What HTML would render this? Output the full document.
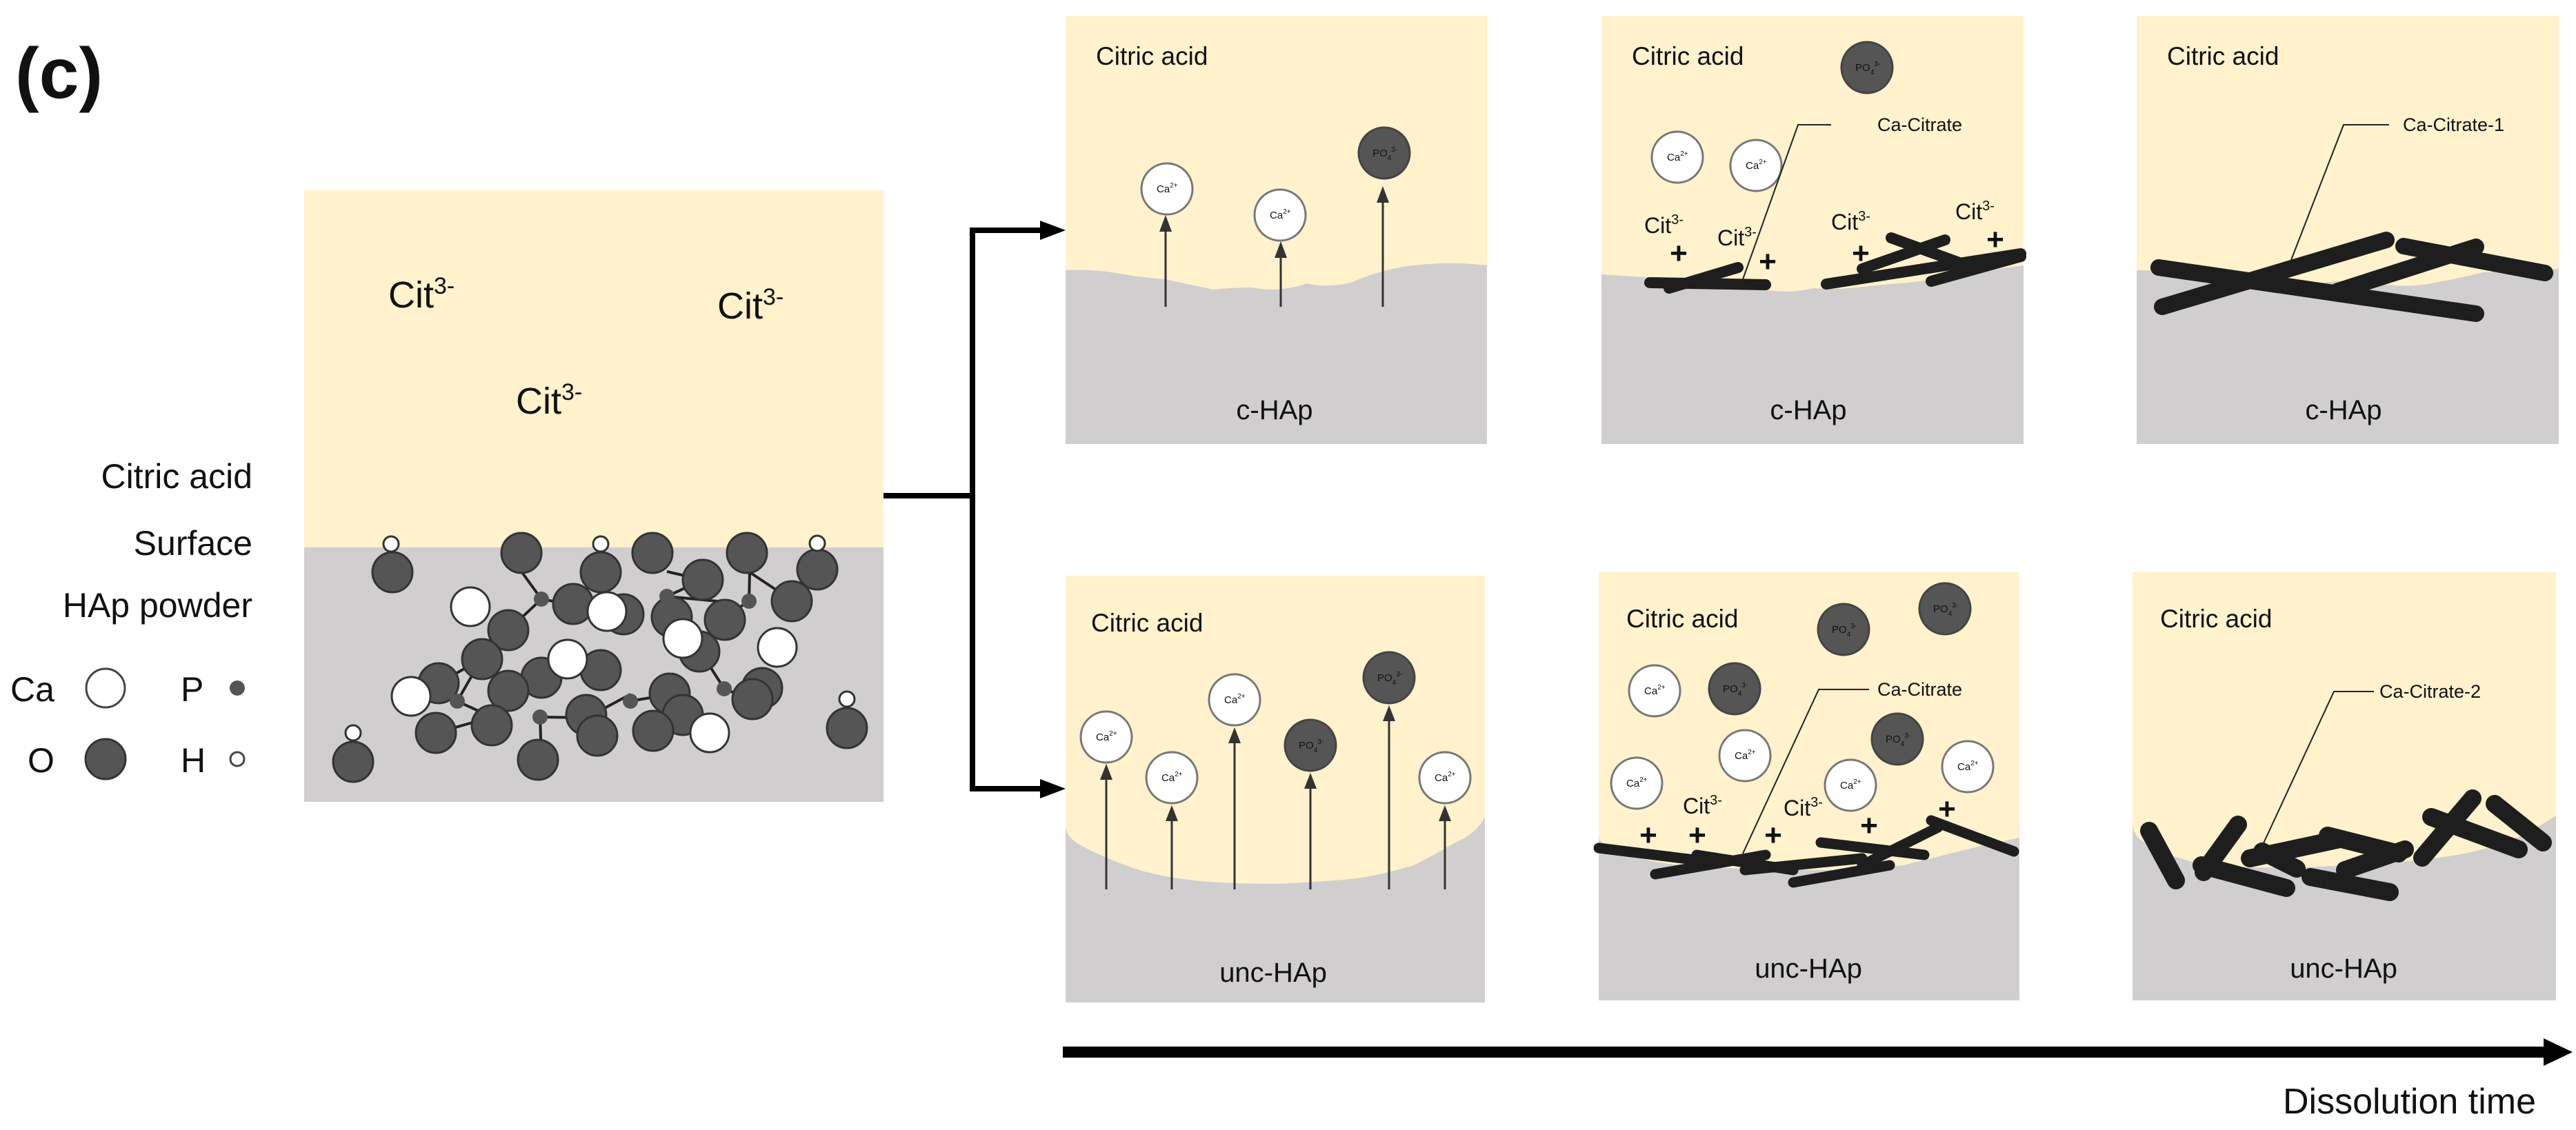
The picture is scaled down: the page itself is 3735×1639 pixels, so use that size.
<!DOCTYPE html>
<html><head><meta charset="utf-8"><style>
html,body{margin:0;padding:0;background:#fff}
svg{display:block}
text{font-family:"Liberation Sans",Arial,sans-serif;fill:#111}
</style></head><body>
<svg width="3735" height="1639" viewBox="0 0 3735 1639" xmlns="http://www.w3.org/2000/svg">
<defs>
<g id="ca"><circle r="37" fill="#fff" stroke="#777" stroke-width="3"/><text x="-15" y="5" font-size="15" fill="#333">Ca<tspan font-size="10" dy="-7">2+</tspan></text></g>
<g id="po"><circle r="37" fill="#555" stroke="#444" stroke-width="3"/><text x="-17" y="5" font-size="15" fill="#ddd">PO<tspan font-size="10" dy="5">4</tspan><tspan font-size="10" dy="-12">3-</tspan></text></g>
</defs>

<text x="22" y="142" font-size="104" font-weight="bold">(c)</text>

<!-- left panel -->
<rect x="441" y="276" width="840" height="518" fill="#fff2cc"/>
<rect x="441" y="794" width="840" height="369" fill="#d1cecf"/>
<g font-size="54">
<text x="563" y="446">Cit<tspan font-size="34" dy="-20">3-</tspan></text>
<text x="1040" y="462">Cit<tspan font-size="34" dy="-20">3-</tspan></text>
<text x="748" y="600">Cit<tspan font-size="34" dy="-20">3-</tspan></text>
</g>
<g font-size="50" text-anchor="end">
<text x="366" y="708">Citric acid</text>
<text x="366" y="805">Surface</text>
<text x="366" y="895">HAp powder</text>
</g>
<g font-size="50">
<text x="15" y="1017">Ca</text><text x="262" y="1017">P</text>
<text x="40" y="1120">O</text><text x="262" y="1120">H</text>
</g>
<circle cx="153" cy="998" r="28" fill="#fff" stroke="#444" stroke-width="3"/>
<circle cx="344" cy="998" r="11" fill="#555"/>
<circle cx="153" cy="1101" r="29" fill="#555" stroke="#333" stroke-width="3"/>
<circle cx="344" cy="1101" r="10" fill="#fff" stroke="#444" stroke-width="3"/>

<!-- molecules -->
<g stroke="#222" stroke-width="4" fill="none">
<polyline points="756,829 785,869 737,914"/><polyline points="785,869 830,877 871,830"/>
<polyline points="967,865 1019,841 967,829"/><polyline points="967,865 1050,873"/>
<polyline points="1086,872 1087,830 1150,872"/><polyline points="1086,872 1043,900"/>
<polyline points="663,1017 698,956 636,991"/><polyline points="663,1017 713,1040 632,1063"/>
<polyline points="783,1040 785,1100"/><polyline points="783,1040 851,1041 914,1007"/>
<polyline points="914,1017 971,1007 985,1060"/><polyline points="1050,999 1015,944"/><polyline points="1050,999 1090,1015"/>
</g>
<g fill="#555" stroke="#333" stroke-width="3">
<circle cx="569" cy="830" r="29"/><circle cx="756" cy="802" r="29"/><circle cx="871" cy="830" r="29"/>
<circle cx="946" cy="802" r="29"/><circle cx="1083" cy="802" r="29"/><circle cx="1185" cy="826" r="29"/>
<circle cx="1019" cy="841" r="29"/><circle cx="831" cy="876" r="29"/><circle cx="904" cy="891" r="29"/>
<circle cx="974" cy="895" r="29"/><circle cx="1051" cy="899" r="29"/><circle cx="1148" cy="872" r="29"/>
<circle cx="737" cy="914" r="29"/><circle cx="1014" cy="945" r="29"/><circle cx="699" cy="956" r="29"/>
<circle cx="871" cy="972" r="29"/><circle cx="785" cy="983" r="29"/><circle cx="636" cy="991" r="29"/>
<circle cx="737" cy="1002" r="29"/><circle cx="971" cy="1006" r="29"/><circle cx="1105" cy="998" r="29"/>
<circle cx="1091" cy="1014" r="29"/><circle cx="990" cy="1037" r="29"/><circle cx="632" cy="1063" r="29"/>
<circle cx="713" cy="1052" r="29"/><circle cx="850" cy="1037" r="29"/><circle cx="866" cy="1067" r="29"/>
<circle cx="947" cy="1060" r="29"/><circle cx="780" cy="1102" r="29"/><circle cx="512" cy="1105" r="29"/>
<circle cx="1228" cy="1056" r="29"/>
</g>
<g fill="#fff" stroke="#333" stroke-width="3">
<circle cx="682" cy="880" r="28"/><circle cx="880" cy="887" r="28"/><circle cx="1127" cy="939" r="28"/>
<circle cx="990" cy="926" r="28"/><circle cx="823" cy="956" r="28"/><circle cx="596" cy="1010" r="28"/>
<circle cx="1029" cy="1063" r="28"/>
<circle cx="567" cy="789" r="11"/><circle cx="871" cy="789" r="11"/><circle cx="1185" cy="788" r="11"/>
<circle cx="512" cy="1063" r="11"/><circle cx="1228" cy="1014" r="11"/>
</g>
<g fill="#555"><circle cx="785" cy="869" r="11"/><circle cx="967" cy="865" r="11"/><circle cx="1086" cy="872" r="11"/>
<circle cx="663" cy="1017" r="11"/><circle cx="783" cy="1040" r="11"/><circle cx="914" cy="1017" r="11"/><circle cx="1050" cy="999" r="11"/></g>

<!-- connector -->
<g stroke="#000" stroke-width="8" fill="none">
<line x1="1281" y1="719" x2="1414" y2="719"/>
<polyline points="1510,334 1410,334 1410,1144 1510,1144"/>
</g>
<polygon points="1508,320 1545,334 1508,348" fill="#000"/>
<polygon points="1508,1130 1545,1144 1508,1158" fill="#000"/>

<!-- ===== Top panel 1 ===== -->
<rect x="1545" y="23" width="611" height="621" fill="#d1cecf"/>
<path d="M1545,23 H2156 V385 Q2100,378 2040,386 Q1990,395 1960,410 Q1920,418 1895,411 Q1855,425 1815,417 Q1770,418 1760,420 Q1720,412 1690,405 Q1650,402 1620,396 Q1580,390 1545,392 Z" fill="#fff2cc"/>
<text x="1589" y="94" font-size="37">Citric acid</text>
<g stroke="#333" stroke-width="3"><line x1="1690" y1="445" x2="1690" y2="330"/><line x1="1857" y1="445" x2="1857" y2="368"/><line x1="2005" y1="445" x2="2005" y2="288"/></g>
<g fill="#333"><polygon points="1681,336 1690,312 1699,336"/><polygon points="1848,374 1857,350 1866,374"/><polygon points="1996,294 2005,270 2014,294"/></g>
<use href="#ca" x="1692" y="274"/><use href="#ca" x="1856" y="312"/><use href="#po" x="2007" y="222"/>
<text x="1848" y="608" font-size="40" text-anchor="middle">c-HAp</text>

<!-- ===== Top panel 2 ===== -->
<rect x="2322" y="23" width="612" height="621" fill="#d1cecf"/>
<path d="M2322,23 H2934 V385 Q2880,392 2830,400 Q2780,410 2740,412 Q2700,416 2680,418 Q2660,420 2630,418 Q2600,425 2570,422 Q2550,420 2520,412 Q2470,410 2440,405 Q2380,402 2322,398 Z" fill="#fff2cc"/>
<text x="2366" y="94" font-size="37">Citric acid</text>
<use href="#po" x="2707" y="98"/><use href="#ca" x="2432" y="228"/><use href="#ca" x="2546" y="240"/>
<g stroke="#222" stroke-width="2" fill="none"><polyline points="2655,181 2607,181 2527,405"/></g>
<text x="2722" y="190" font-size="27">Ca-Citrate</text>
<g font-size="32">
<text x="2384" y="338">Cit<tspan font-size="20" dy="-13">3-</tspan></text>
<text x="2490" y="356">Cit<tspan font-size="20" dy="-13">3-</tspan></text>
<text x="2655" y="333">Cit<tspan font-size="20" dy="-13">3-</tspan></text>
<text x="2835" y="318">Cit<tspan font-size="20" dy="-13">3-</tspan></text>
</g>
<g font-size="44" font-weight="bold" text-anchor="middle">
<text x="2434" y="382">+</text><text x="2563" y="394">+</text><text x="2698" y="382">+</text><text x="2893" y="362">+</text>
</g>
<g stroke="#1e1e1e" stroke-width="16" stroke-linecap="round">
<line x1="2392" y1="410" x2="2560" y2="413"/><line x1="2420" y1="418" x2="2520" y2="388"/>
<line x1="2648" y1="412" x2="2930" y2="368"/><line x1="2742" y1="345" x2="2860" y2="388"/>
<line x1="2800" y1="408" x2="2930" y2="372"/><line x1="2700" y1="390" x2="2820" y2="348"/>
</g>
<text x="2622" y="608" font-size="40" text-anchor="middle">c-HAp</text>

<!-- ===== Top panel 3 ===== -->
<rect x="3098" y="23" width="612" height="621" fill="#d1cecf"/>
<path d="M3098,23 H3710 V390 Q3650,392 3600,395 Q3560,405 3520,412 Q3480,418 3440,410 Q3400,405 3370,410 Q3320,412 3280,405 Q3220,400 3180,398 Q3130,392 3098,392 Z" fill="#fff2cc"/>
<text x="3142" y="94" font-size="37">Citric acid</text>
<g stroke="#222" stroke-width="2" fill="none"><polyline points="3464,181 3398,181 3322,377"/></g>
<text x="3484" y="190" font-size="27">Ca-Citrate-1</text>
<g stroke="#1e1e1e" stroke-width="24" stroke-linecap="round">
<line x1="3130" y1="388" x2="3590" y2="455"/><line x1="3135" y1="445" x2="3460" y2="348"/>
<line x1="3390" y1="422" x2="3590" y2="358"/><line x1="3485" y1="357" x2="3690" y2="396"/>
</g>
<text x="3398" y="608" font-size="40" text-anchor="middle">c-HAp</text>

<!-- ===== Bottom panel 1 ===== -->
<rect x="1545" y="835" width="608" height="619" fill="#d1cecf"/>
<path d="M1545,835 H2153 V1185 Q2140,1210 2110,1222 Q2080,1240 2050,1255 Q2000,1270 1960,1275 Q1900,1280 1850,1282 Q1790,1282 1740,1278 Q1680,1272 1640,1258 Q1590,1240 1560,1222 Q1545,1210 1545,1198 Z" fill="#fff2cc"/>
<text x="1582" y="916" font-size="37">Citric acid</text>
<g stroke="#333" stroke-width="3">
<line x1="1604" y1="1290" x2="1604" y2="1125"/><line x1="1699" y1="1290" x2="1699" y2="1185"/>
<line x1="1790" y1="1290" x2="1790" y2="1072"/><line x1="1900" y1="1290" x2="1900" y2="1138"/>
<line x1="2014" y1="1290" x2="2014" y2="1040"/><line x1="2095" y1="1290" x2="2095" y2="1185"/>
</g>
<g fill="#333">
<polygon points="1595,1131 1604,1108 1613,1131"/><polygon points="1690,1191 1699,1168 1708,1191"/>
<polygon points="1781,1078 1790,1055 1799,1078"/><polygon points="1891,1144 1900,1121 1909,1144"/>
<polygon points="2005,1046 2014,1023 2023,1046"/><polygon points="2086,1191 2095,1168 2104,1191"/>
</g>
<use href="#ca" x="1604" y="1069"/><use href="#ca" x="1699" y="1128"/><use href="#ca" x="1790" y="1015"/>
<use href="#ca" x="2095" y="1128"/><use href="#po" x="1900" y="1081"/><use href="#po" x="2014" y="983"/>
<text x="1846" y="1424" font-size="40" text-anchor="middle">unc-HAp</text>

<!-- ===== Bottom panel 2 ===== -->
<rect x="2318" y="830" width="610" height="621" fill="#d1cecf"/>
<path d="M2318,830 H2928 V1215 Q2880,1225 2840,1235 Q2800,1245 2760,1255 Q2700,1262 2650,1262 Q2600,1262 2560,1258 Q2500,1262 2440,1255 Q2380,1250 2345,1232 Q2318,1222 2318,1215 Z" fill="#fff2cc"/>
<text x="2358" y="910" font-size="37">Citric acid</text>
<use href="#po" x="2673" y="913"/><use href="#po" x="2820" y="883"/><use href="#po" x="2515" y="999"/><use href="#po" x="2751" y="1072"/>
<use href="#ca" x="2399" y="1002"/><use href="#ca" x="2530" y="1096"/><use href="#ca" x="2373" y="1136"/>
<use href="#ca" x="2683" y="1139"/><use href="#ca" x="2853" y="1112"/>
<g stroke="#222" stroke-width="2" fill="none"><polyline points="2710,1000 2637,1000 2527,1238"/></g>
<text x="2722" y="1009" font-size="27">Ca-Citrate</text>
<g font-size="32">
<text x="2440" y="1180">Cit<tspan font-size="20" dy="-13">3-</tspan></text>
<text x="2586" y="1183">Cit<tspan font-size="20" dy="-13">3-</tspan></text>
</g>
<g font-size="44" font-weight="bold" text-anchor="middle">
<text x="2390" y="1226">+</text><text x="2461" y="1226">+</text><text x="2571" y="1226">+</text><text x="2710" y="1212">+</text><text x="2823" y="1188">+</text>
</g>
<g stroke="#1e1e1e" stroke-width="15" stroke-linecap="round">
<line x1="2318" y1="1230" x2="2480" y2="1250"/><line x1="2400" y1="1268" x2="2560" y2="1240"/>
<line x1="2460" y1="1240" x2="2600" y2="1262"/><line x1="2530" y1="1262" x2="2700" y2="1245"/>
<line x1="2600" y1="1280" x2="2740" y2="1255"/><line x1="2640" y1="1222" x2="2790" y2="1240"/>
<line x1="2700" y1="1255" x2="2810" y2="1200"/><line x1="2800" y1="1190" x2="2920" y2="1235"/>
</g>
<text x="2622" y="1418" font-size="40" text-anchor="middle">unc-HAp</text>

<!-- ===== Bottom panel 3 ===== -->
<rect x="3092" y="830" width="614" height="621" fill="#d1cecf"/>
<path d="M3092,830 H3706 V1183 Q3680,1200 3650,1215 Q3600,1235 3550,1242 Q3480,1252 3400,1255 Q3300,1262 3200,1255 Q3130,1240 3100,1215 Q3092,1205 3092,1195 Z" fill="#fff2cc"/>
<text x="3132" y="910" font-size="37">Citric acid</text>
<g stroke="#222" stroke-width="2" fill="none"><polyline points="3442,1003 3384,1003 3281,1225"/></g>
<text x="3450" y="1012" font-size="27">Ca-Citrate-2</text>
<g stroke="#1e1e1e" stroke-width="26" stroke-linecap="round">
<line x1="3116" y1="1205" x2="3155" y2="1277"/><line x1="3245" y1="1196" x2="3195" y2="1265"/>
<line x1="3192" y1="1255" x2="3315" y2="1288"/><line x1="3262" y1="1245" x2="3388" y2="1218"/>
<line x1="3375" y1="1212" x2="3478" y2="1238"/><line x1="3350" y1="1272" x2="3465" y2="1294"/>
<line x1="3400" y1="1262" x2="3487" y2="1232"/><line x1="3512" y1="1244" x2="3585" y2="1158"/>
<line x1="3525" y1="1185" x2="3652" y2="1232"/><line x1="3617" y1="1166" x2="3687" y2="1222"/>
<line x1="3280" y1="1235" x2="3330" y2="1260"/>
</g>
<text x="3398" y="1418" font-size="40" text-anchor="middle">unc-HAp</text>

<!-- time arrow -->
<rect x="1541" y="1518" width="2150" height="16" fill="#000"/>
<polygon points="3688,1506 3730,1526 3688,1546" fill="#000"/>
<text x="3677" y="1615" font-size="52" text-anchor="end">Dissolution time</text>
</svg>
</body></html>
